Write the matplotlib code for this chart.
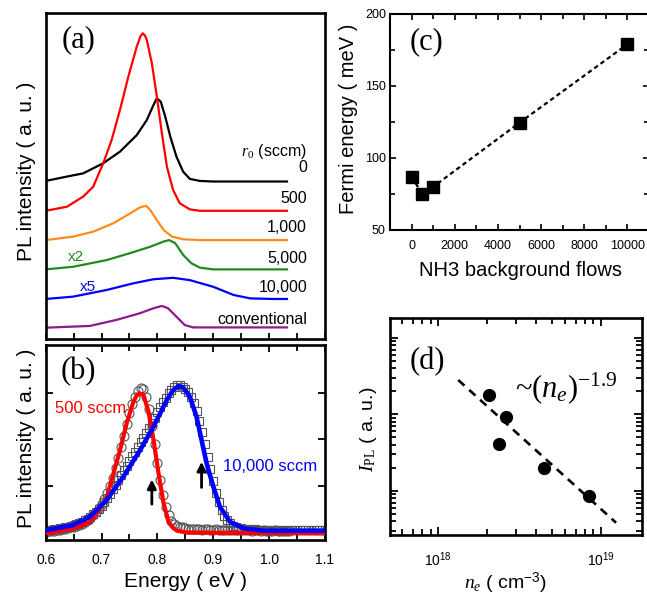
import numpy as np
import matplotlib
matplotlib.use("Agg")
import matplotlib.pyplot as plt
from matplotlib.ticker import MultipleLocator, NullFormatter, LogLocator, FixedLocator

plt.rcParams['font.family'] = ['Liberation Sans', 'DejaVu Sans']
plt.rcParams['mathtext.fontset'] = 'custom'
plt.rcParams['mathtext.rm'] = 'Liberation Serif'
plt.rcParams['mathtext.it'] = 'Liberation Serif:italic'
plt.rcParams['mathtext.sf'] = 'Liberation Sans'

# ---------------- data: panel (a) PL spectra (offset) ----------------
black_e = [0.600, 0.638, 0.667, 0.703, 0.733, 0.763, 0.781, 0.793, 0.799, 0.806, 0.814, 0.823, 0.834, 0.846, 0.858, 0.876, 0.900, 1.032]
black_y = [5.45, 5.60, 5.71, 6.06, 6.46, 7.03, 7.55, 8.07, 8.30, 8.18, 7.67, 6.98, 6.29, 5.77, 5.52, 5.45, 5.43, 5.43]
red_e = [0.600, 0.638, 0.667, 0.685, 0.703, 0.718, 0.733, 0.748, 0.763, 0.770, 0.774, 0.778, 0.781, 0.790, 0.799, 0.808, 0.817, 0.828, 0.840, 0.858, 0.876, 1.032]
red_y = [4.42, 4.56, 4.91, 5.25, 6.06, 6.86, 7.90, 9.05, 10.08, 10.45, 10.54, 10.45, 10.31, 9.51, 8.36, 7.09, 5.94, 5.14, 4.68, 4.47, 4.42, 4.42]
orange_e = [0.600, 0.649, 0.685, 0.721, 0.751, 0.769, 0.780, 0.787, 0.799, 0.811, 0.826, 0.846, 0.876, 1.032]
orange_y = [3.41, 3.53, 3.70, 3.99, 4.33, 4.54, 4.59, 4.45, 4.10, 3.76, 3.53, 3.44, 3.41, 3.41]
green_e = [0.600, 0.649, 0.709, 0.751, 0.787, 0.811, 0.821, 0.832, 0.846, 0.861, 0.876, 0.900, 1.032]
green_y = [2.40, 2.49, 2.72, 2.96, 3.18, 3.36, 3.41, 3.30, 2.90, 2.61, 2.46, 2.40, 2.40]
blue_e = [0.600, 0.649, 0.709, 0.757, 0.793, 0.828, 0.858, 0.900, 0.936, 0.966, 1.007, 1.032]
blue_y = [1.38, 1.46, 1.69, 1.92, 2.06, 2.11, 2.03, 1.80, 1.52, 1.40, 1.38, 1.38]
purple_e = [0.600, 0.679, 0.727, 0.769, 0.793, 0.808, 0.819, 0.834, 0.849, 0.864, 1.032]
purple_y = [0.39, 0.45, 0.66, 0.89, 1.06, 1.14, 1.06, 0.77, 0.48, 0.40, 0.40]
flow_labels = ['0', '500', '1,000', '5,000', '10,000', 'conventional']

# ---------------- data: panel (b) spectra + fits ----------------
red_fit_e = [0.600, 0.625, 0.649, 0.665, 0.679, 0.691, 0.700, 0.709, 0.718, 0.733, 0.745, 0.757, 0.763, 0.768, 0.775, 0.784, 0.793, 0.802, 0.811, 0.820, 0.828, 0.835, 0.852, 1.100]
red_fit_y = [-0.02, 0.03, 0.09, 0.15, 0.23, 0.41, 0.57, 0.74, 1.13, 1.77, 2.35, 2.81, 2.95, 2.99, 2.96, 2.60, 1.99, 1.27, 0.63, 0.23, 0.10, 0.04, 0.00, -0.02]
blue_fit_e = [0.600, 0.649, 0.679, 0.709, 0.739, 0.769, 0.793, 0.817, 0.828, 0.838, 0.846, 0.858, 0.870, 0.879, 0.888, 0.900, 0.912, 0.930, 0.954, 0.990, 1.100]
blue_fit_y = [0.05, 0.16, 0.34, 0.70, 1.20, 1.77, 2.28, 2.85, 3.06, 3.15, 3.12, 2.92, 2.49, 1.99, 1.49, 0.99, 0.55, 0.23, 0.09, 0.04, 0.04]

circ_e0, circ_step = 0.600, 0.005
circ_y = [0.02, 0.03, 0.04, 0.04, 0.05, 0.06, 0.07, 0.08, 0.10, 0.11,
          0.12, 0.14, 0.16, 0.19, 0.22, 0.26, 0.31, 0.37, 0.44, 0.52,
          0.62, 0.73, 0.86, 1.01, 1.18, 1.38, 1.60, 1.84, 2.08, 2.33,
          2.56, 2.76, 2.92, 3.04, 3.10, 3.08, 2.92, 2.65, 2.30, 1.90,
          1.50, 1.12, 0.80, 0.55, 0.37, 0.25, 0.18, 0.14, 0.12, 0.11,
          0.10,
          0.08, 0.07, 0.07, 0.08, 0.07, 0.06, 0.07, 0.07, 0.06, 0.06,
          0.07, 0.06, 0.06, 0.05, 0.06, 0.06, 0.05, 0.06, 0.05, 0.05,
          0.06, 0.05, 0.05, 0.04, 0.05, 0.05, 0.04, 0.05, 0.04, 0.04,
          0.04, 0.05, 0.04, 0.04, 0.03, 0.04, 0.04]
sq_e0, sq_step = 0.600, 0.005
sq_y = [0.05, 0.06, 0.06, 0.07, 0.08, 0.09, 0.10, 0.11, 0.13, 0.14,
        0.16, 0.18, 0.20, 0.23, 0.26, 0.30, 0.34, 0.39, 0.44, 0.50,
        0.58, 0.65, 0.74, 0.83, 0.93, 1.03, 1.13, 1.24, 1.34, 1.44,
        1.54, 1.64, 1.74, 1.84, 1.94, 2.04, 2.14, 2.25, 2.36, 2.47,
        2.58, 2.69, 2.80, 2.90, 2.99, 3.07, 3.13, 3.17, 3.17, 3.13,
        3.08, 3.02, 2.92, 2.78, 2.61, 2.40, 2.16, 1.90, 1.63, 1.36,
        1.10, 0.86, 0.66, 0.49, 0.36, 0.27, 0.20, 0.15, 0.12, 0.10,
        0.09, 0.08,
        0.07, 0.07, 0.06, 0.07, 0.06, 0.06, 0.06, 0.05, 0.06, 0.06,
        0.05, 0.06, 0.05, 0.05, 0.06, 0.05, 0.05, 0.05, 0.06, 0.05,
        0.05, 0.05, 0.05, 0.06, 0.05, 0.05, 0.05, 0.05, 0.05]
arrow_e = [0.790, 0.879]
energy_ticks = [0.6, 0.7, 0.8, 0.9, 1.0, 1.1]
energy_ticklabels = ['0.6', '0.7', '0.8', '0.9', '1.0', '1.1']

# ---------------- data: panel (c) ----------------
nh3_flow = [0, 500, 1000, 5000, 10000]
fermi_mev = [87, 75, 80, 124.5, 179]

# ---------------- data: panel (d) ----------------
n_e = [2.07e18, 2.60e18, 2.37e18, 4.49e18, 8.47e18]
i_pl = [18.0, 9.2, 4.1, 1.98, 0.86]
fit_ne = [1.33e18, 1.24e19]
fit_ipl = [28.2, 0.385]

# ---------------- figure ----------------
W, H = 647, 599
fig = plt.figure(figsize=(W / 100, H / 100), dpi=100)


def rect(l, t, r, b):
    return [l / W, 1 - b / H, (r - l) / W, (b - t) / H]


ax_a = fig.add_axes(rect(45.7, 13, 325, 339))
ax_b = fig.add_axes(rect(45.7, 345, 325, 540))
ax_c = fig.add_axes(rect(390, 14, 649, 230))
ax_d = fig.add_axes(rect(390, 318, 642, 535))

for ax in (ax_a, ax_b, ax_d):
    for s in ax.spines.values():
        s.set_linewidth(1.9)
for s in ax_c.spines.values():
    s.set_linewidth(1.5)

# ----- panel (a) -----
curves = [(black_e, black_y, 'black'), (red_e, red_y, '#ff0000'),
          (orange_e, orange_y, '#ff8c1a'), (green_e, green_y, '#1f8a1f'),
          (blue_e, blue_y, '#0000ff'), (purple_e, purple_y, '#8b1a8b')]
for e, y, c in curves:
    ax_a.plot(e, y, color=c, lw=1.6, solid_joinstyle='round')
ax_a.set_xlim(0.6, 1.1)
ax_a.set_ylim(0, 11.24)
ax_a.xaxis.set_major_locator(MultipleLocator(0.05))
ax_a.set_yticks([])
ax_a.tick_params(axis='x', direction='in', length=4, width=1.3, labelbottom=False)
label_y = [5.90, 4.83, 3.83, 2.79, 1.76, 0.66]
for t, yy in zip(flow_labels, label_y):
    ax_a.text(1.068, yy, t, ha='right', va='center', fontsize=11.5)
ax_a.text(1.068, 6.45, r'$r_0$ (sccm)', ha='right', va='center', fontsize=11.5)
ax_a.text(0.654, 2.84, 'x2', color='#1f8a1f', ha='center', va='center', fontsize=11)
ax_a.text(0.676, 1.78, 'x5', color='#0000ff', ha='center', va='center', fontsize=11)
ax_a.text(0.119, 0.917, '(a)', transform=ax_a.transAxes, ha='center', va='center',
          fontsize=22, family='Liberation Serif')
ax_a.set_ylabel('PL intensity ( a. u. )', fontsize=15)
ax_a.yaxis.set_label_coords(-0.035, 0.514)

# ----- panel (b) -----
circ_e = circ_e0 + circ_step * np.arange(len(circ_y))
sq_e = sq_e0 + sq_step * np.arange(len(sq_y))
ax_b.plot(circ_e, circ_y, 'o', ms=6.5, mfc='none', mec='#555555', mew=0.8, zorder=2)
ax_b.plot(sq_e, sq_y, 's', ms=6.0, mfc='none', mec='#555555', mew=0.8, zorder=2)
ax_b.plot(red_fit_e, red_fit_y, color='#ff0000', lw=3.0, zorder=3)
ax_b.plot(blue_fit_e, blue_fit_y, color='#0000ff', lw=3.3, zorder=4)
ax_b.annotate('', xy=(arrow_e[0], 1.20), xytext=(arrow_e[0], 0.55),
              arrowprops=dict(arrowstyle='-|>', color='black', lw=2, mutation_scale=13))
ax_b.annotate('', xy=(arrow_e[1], 1.58), xytext=(arrow_e[1], 0.91),
              arrowprops=dict(arrowstyle='-|>', color='black', lw=2, mutation_scale=13))
ax_b.text(0.617, 2.66, '500 sccm', color='#ff0000', ha='left', va='center', fontsize=12)
ax_b.text(0.918, 1.43, '10,000 sccm', color='#0000ff', ha='left', va='center', fontsize=12)
ax_b.text(0.117, 0.863, '(b)', transform=ax_b.transAxes, ha='center', va='center',
          fontsize=22, family='Liberation Serif')
ax_b.set_xlim(0.6, 1.1)
ax_b.set_ylim(-0.16, 4.03)
ax_b.set_xticks(energy_ticks)
ax_b.set_xticklabels(energy_ticklabels)
ax_b.xaxis.set_minor_locator(MultipleLocator(0.05))
ax_b.set_yticks([1, 2, 3])
ax_b.set_yticklabels([])
ax_b.tick_params(which='both', direction='in', top=True, right=True, width=1.3)
ax_b.tick_params(which='major', length=5, labelsize=10, pad=9)
ax_b.tick_params(which='minor', length=4.5)
ax_b.set_xlabel('Energy ( eV )', fontsize=15)
ax_b.xaxis.set_label_coords(0.499, -0.165)
ax_b.set_ylabel('PL intensity ( a. u. )', fontsize=15)
ax_b.yaxis.set_label_coords(-0.035, 0.523)

# ----- panel (c) -----
ax_c.plot(nh3_flow, fermi_mev, color='black', lw=1.6, dashes=(2, 1.5), zorder=2)
ax_c.plot(nh3_flow, fermi_mev, 's', color='black', ms=8.5, zorder=3)
ax_c.set_xlim(-1000, 11000)
ax_c.set_ylim(50, 200)
ax_c.xaxis.set_major_locator(MultipleLocator(2000))
ax_c.xaxis.set_minor_locator(MultipleLocator(1000))
ax_c.yaxis.set_major_locator(MultipleLocator(50))
ax_c.yaxis.set_minor_locator(MultipleLocator(25))
ax_c.tick_params(which='both', direction='in', top=True, right=True, width=1.2)
ax_c.tick_params(which='major', length=4.5, labelsize=9)
ax_c.tick_params(which='minor', length=3.5)
ax_c.tick_params(axis='x', pad=7)
ax_c.tick_params(axis='y', pad=3)
ax_c.set_xlabel('NH3 background flows', fontsize=14.5)
ax_c.xaxis.set_label_coords(0.502, -0.145)
ax_c.set_ylabel('Fermi energy ( meV )', fontsize=14.5)
ax_c.yaxis.set_label_coords(-0.122, 0.514)
ax_c.text(0.142, 0.872, '(c)', transform=ax_c.transAxes, ha='center', va='center',
          fontsize=22, family='Liberation Serif')

# ----- panel (d) -----
ax_d.set_xscale('log')
ax_d.set_yscale('log')
ax_d.plot(fit_ne, fit_ipl, color='black', lw=1.9, dashes=(3.2, 2.4), zorder=2)
ax_d.plot(n_e, i_pl, 'o', color='black', ms=8.5, zorder=3)
ax_d.set_xlim(5.07e17, 1.79e19)
ax_d.set_ylim(0.266, 182)
ax_d.xaxis.set_major_locator(FixedLocator([1e18, 1e19]))
ax_d.xaxis.set_minor_locator(LogLocator(base=10, subs=np.arange(2, 10)))
ax_d.xaxis.set_minor_formatter(NullFormatter())
ax_d.yaxis.set_major_locator(FixedLocator([1, 10, 100]))
ax_d.yaxis.set_minor_locator(LogLocator(base=10, subs=np.arange(2, 10)))
ax_d.yaxis.set_major_formatter(NullFormatter())
ax_d.yaxis.set_minor_formatter(NullFormatter())
ax_d.tick_params(which='both', direction='in', top=True, right=True, width=1.3)
ax_d.tick_params(which='major', length=6, labelsize=10, pad=11)
ax_d.tick_params(which='minor', length=4)
ax_d.set_xlabel(r'$n_e$ ( cm$^{\mathsf{-3}}$)', fontsize=14)
ax_d.xaxis.set_label_coords(0.459, -0.165)
ax_d.set_ylabel(r'$I_{\mathrm{PL}}$ ( a. u.)', fontsize=14)
ax_d.yaxis.set_label_coords(-0.043, 0.488)
ax_d.text(0.148, 0.799, '(d)', transform=ax_d.transAxes, ha='center', va='center',
          fontsize=22, family='Liberation Serif')
ax_d.text(0.496, 0.677, r'~$(n_e)^{-1.9}$', transform=ax_d.transAxes, ha='left', va='center',
          fontsize=22, family='Liberation Serif')

fig.savefig('out.png', dpi=100)
